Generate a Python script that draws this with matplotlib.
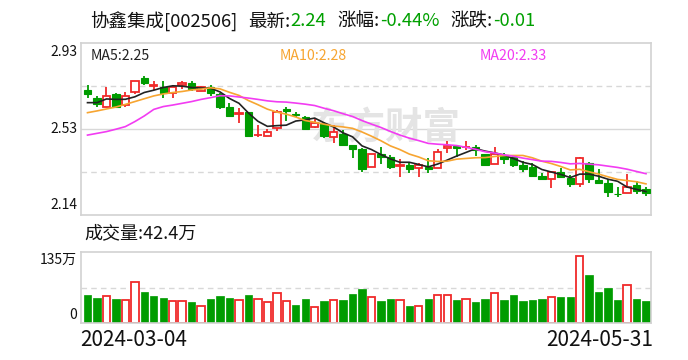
import matplotlib
matplotlib.use('Agg')
import matplotlib.pyplot as plt
import numpy as np
from matplotlib.patches import Rectangle

plt.rcParams['font.family'] = ['Noto Sans CJK SC', 'DejaVu Sans']

# ---------------- data ----------------
opens = [2.714, 2.676, 2.638, 2.696, 2.645, 2.707, 2.769, 2.731, 2.726, 2.700,
         2.739, 2.746, 2.708, 2.726, 2.696, 2.636, 2.605, 2.613, 2.507, 2.504,
         2.538, 2.627, 2.606, 2.592, 2.546, 2.558, 2.497, 2.512, 2.460, 2.442,
         2.362, 2.419, 2.408, 2.367, 2.368, 2.354, 2.362, 2.357, 2.446, 2.459,
         2.451, 2.451, 2.420, 2.373, 2.416, 2.405, 2.370, 2.362, 2.319, 2.304,
         2.338, 2.311, 2.281, 2.377, 2.301, 2.286, 2.236, 2.240, 2.276, 2.259]
highs = [2.737, 2.687, 2.730, 2.699, 2.704, 2.754, 2.780, 2.756, 2.757, 2.736,
         2.754, 2.757, 2.734, 2.737, 2.699, 2.656, 2.633, 2.613, 2.553, 2.535,
         2.622, 2.638, 2.615, 2.595, 2.584, 2.569, 2.553, 2.530, 2.460, 2.446,
         2.419, 2.451, 2.416, 2.399, 2.382, 2.377, 2.400, 2.443, 2.480, 2.462,
         2.480, 2.462, 2.420, 2.451, 2.426, 2.416, 2.390, 2.377, 2.335, 2.338,
         2.354, 2.322, 2.408, 2.385, 2.350, 2.304, 2.267, 2.327, 2.298, 2.270]
lows = [2.679, 2.638, 2.638, 2.636, 2.636, 2.697, 2.739, 2.714, 2.679, 2.679,
        2.717, 2.708, 2.708, 2.688, 2.627, 2.596, 2.564, 2.503, 2.497, 2.504,
        2.526, 2.572, 2.592, 2.537, 2.538, 2.495, 2.472, 2.463, 2.403, 2.339,
        2.362, 2.374, 2.351, 2.313, 2.331, 2.313, 2.331, 2.357, 2.423, 2.408,
        2.439, 2.413, 2.371, 2.373, 2.373, 2.362, 2.339, 2.321, 2.304, 2.263,
        2.308, 2.270, 2.270, 2.289, 2.289, 2.221, 2.221, 2.240, 2.237, 2.227]
closes = [2.697, 2.648, 2.687, 2.638, 2.687, 2.754, 2.748, 2.739, 2.700, 2.726,
          2.746, 2.717, 2.726, 2.699, 2.638, 2.596, 2.607, 2.503, 2.509, 2.521,
          2.612, 2.618, 2.598, 2.537, 2.561, 2.503, 2.523, 2.463, 2.445, 2.353,
          2.419, 2.408, 2.362, 2.369, 2.353, 2.368, 2.353, 2.428, 2.459, 2.446,
          2.452, 2.439, 2.371, 2.419, 2.396, 2.371, 2.353, 2.321, 2.304, 2.338,
          2.316, 2.281, 2.400, 2.304, 2.289, 2.247, 2.235, 2.267, 2.250, 2.240]
# volume in 万
volumes = [53.1, 47.3, 52.4, 45.4, 44.8, 78.8, 58.7, 51.2, 47.3, 41.6,
           41.6, 39.7, 33.5, 45.4, 51.2, 47.3, 43.5, 53.1, 46.7, 39.7,
           58.1, 41.6, 34.0, 45.4, 31.6, 41.6, 44.8, 43.5, 54.9, 64.4,
           50.5, 41.6, 45.4, 44.8, 32.1, 33.5, 45.4, 54.3, 54.3, 43.5,
           46.7, 39.7, 45.4, 58.1, 43.5, 53.1, 41.6, 43.5, 45.4, 50.5,
           49.1, 49.1, 126.8, 90.9, 58.7, 66.3, 43.5, 73.2, 45.4, 42.4]
# moving-average values at the first points (window reaches before the chart)
ma5_head = [2.656, 2.656, 2.673, 2.671]
ma10_head = [2.610, 2.618, 2.627, 2.636, 2.648, 2.661, 2.674, 2.687, 2.696]
ma20_head = [2.507, 2.515, 2.523, 2.534, 2.546, 2.569, 2.595, 2.625, 2.638, 2.645,
             2.653, 2.661, 2.671, 2.679, 2.688, 2.687, 2.682, 2.677, 2.671]
date_labels = ['2024-03-04', '2024-05-31']
stock_name = '协鑫集成[002506]'
last_price = '2.24'
pct_change = '-0.44%'
abs_change = '-0.01'
y_ticks = [2.93, 2.53, 2.14]
vol_max_label = '135万'
vol_last_label = '42.4万'

# ---------------- derived ----------------
c = np.array(closes)
def ma(head, n):
    out = list(head)
    for i in range(len(head), len(c)):
        out.append(c[i - n + 1:i + 1].mean())
    return np.array(out)
ma5 = ma(ma5_head, 5)
ma10 = ma(ma10_head, 10)
ma20 = ma(ma20_head, 20)

RED = '#f02a2a'
GREEN = '#009c00'
TGREEN = '#00a000'
GRID = '#d8d8d8'
FRAME = '#d2d2d2'
TXT = '#111111'

W, H = 688, 360
fig = plt.figure(figsize=(W / 100, H / 100), dpi=100)
renderer = fig.canvas.get_renderer()

def fx(px):
    return px / W
def fy(py):
    return 1 - py / H

ax = fig.add_axes([fx(80.5), fy(215), fx(651) - fx(80.5), fy(43) - fy(215)])
axv = fig.add_axes([fx(80.5), fy(323.3), fx(651) - fx(80.5), fy(252) - fy(323.3)])

n = len(closes)
x = np.arange(n)
xlim = (-0.74, 59.53)

# price panel
ax.set_xlim(*xlim)
ax.set_ylim(y_ticks[2], y_ticks[0])
for frac, ls in [(0.25, (0, (4, 3))), (0.5, '-'), (0.75, (0, (4, 3)))]:
    ax.axhline(y_ticks[2] + frac * (y_ticks[0] - y_ticks[2]), color=GRID, lw=1.0, ls=ls, zorder=0)

ax.text((386 - 80.5) / (651 - 80.5), 0.505, '东方财富', transform=ax.transAxes, fontsize=27,
        fontweight='bold', color='#e4e4e4', ha='center', va='center', zorder=0.5)

bw = 0.78
for i in range(n):
    o, h, l, cl = opens[i], highs[i], lows[i], closes[i]
    up = cl >= o
    col = RED if up else GREEN
    top, bot = max(o, cl), min(o, cl)
    ax.plot([i, i], [top, h], color=col, lw=1.3, zorder=2, solid_capstyle='butt')
    ax.plot([i, i], [l, bot], color=col, lw=1.3, zorder=2, solid_capstyle='butt')
    hgt = max(top - bot, 0.0005)
    if up:
        ax.add_patch(Rectangle((i - bw / 2, bot), bw, hgt, facecolor='white',
                               edgecolor=col, lw=1.3, zorder=3))
    else:
        ax.add_patch(Rectangle((i - bw / 2, bot), bw, hgt, facecolor=col,
                               edgecolor=col, lw=0.8, zorder=3))

ax.plot(x, ma5, color='#222222', lw=1.2, zorder=4)
ax.plot(x, ma10, color='#f7a531', lw=1.2, zorder=4)
ax.plot(x, ma20, color='#f23cf2', lw=1.2, zorder=4)

ax.set_xticks([])
ax.set_yticks([])
for s in ax.spines.values():
    s.set_color(FRAME)
    s.set_linewidth(1.2)

# price tick labels
fig.text(fx(77), fy(45), f'{y_ticks[0]:.2f}', ha='right', va='top', fontsize=10, color=TXT)
fig.text(fx(77), fy(129.3), f'{y_ticks[1]:.2f}', ha='right', va='center', fontsize=10, color=TXT)
fig.text(fx(77), fy(212), f'{y_ticks[2]:.2f}', ha='right', va='bottom', fontsize=10, color=TXT)

# MA legend
fig.text(fx(90.5), fy(56), f'MA5:{ma5[-1]:.2f}', ha='left', va='center', fontsize=10.2, color='#222222')
fig.text(fx(280), fy(56), f'MA10:{ma10[-1]:.2f}', ha='left', va='center', fontsize=10.2, color='#f7a531')
fig.text(fx(480), fy(56), f'MA20:{ma20[-1]:.2f}', ha='left', va='center', fontsize=10.2, color='#f23cf2')

# title: label pieces at their positions, values directly after them
TFS = 13.3
groups = [(90, [(stock_name, TXT)]),
          (248, [('最新:', TXT), (last_price, TGREEN)]),
          (337.5, [('涨幅:', TXT), (pct_change, TGREEN)]),
          (450.8, [('涨跌:', TXT), (abs_change, TGREEN)])]
for px, parts in groups:
    cur = px
    for txt, col in parts:
        t = fig.text(fx(cur), fy(21.5), txt, ha='left', va='center', fontsize=TFS, color=col)
        cur = t.get_window_extent(renderer).x1

# volume panel
axv.set_xlim(*xlim)
axv.set_ylim(0, 135)
axv.axhline(67.5, color=GRID, lw=1.0, ls=(0, (4, 3)), zorder=0)
for i in range(n):
    if i == 0:
        up = closes[i] >= opens[i]
    else:
        up = closes[i] >= closes[i - 1]
    if up:
        axv.add_patch(Rectangle((i - bw / 2, 0), bw, volumes[i], facecolor='white',
                                edgecolor=RED, lw=1.3, zorder=2))
    else:
        axv.add_patch(Rectangle((i - bw / 2, 0), bw, volumes[i], facecolor=GREEN,
                                edgecolor=GREEN, lw=0.5, zorder=2))
axv.set_xticks([])
axv.set_yticks([])
for s in axv.spines.values():
    s.set_color(FRAME)
    s.set_linewidth(1.2)

fig.text(fx(84), fy(233), '成交量:' + vol_last_label, ha='left', va='center', fontsize=13, color=TXT)
fig.text(fx(77), fy(253), vol_max_label, ha='right', va='top', fontsize=10, color=TXT)
fig.text(fx(77), fy(322), '0', ha='right', va='bottom', fontsize=10, color=TXT)

fig.text(fx(80.5), fy(340.5), date_labels[0], ha='left', va='center', fontsize=15, color=TXT)
fig.text(fx(653), fy(340.5), date_labels[1], ha='right', va='center', fontsize=15, color=TXT)

fig.savefig('out.png', dpi=100, facecolor='white')
